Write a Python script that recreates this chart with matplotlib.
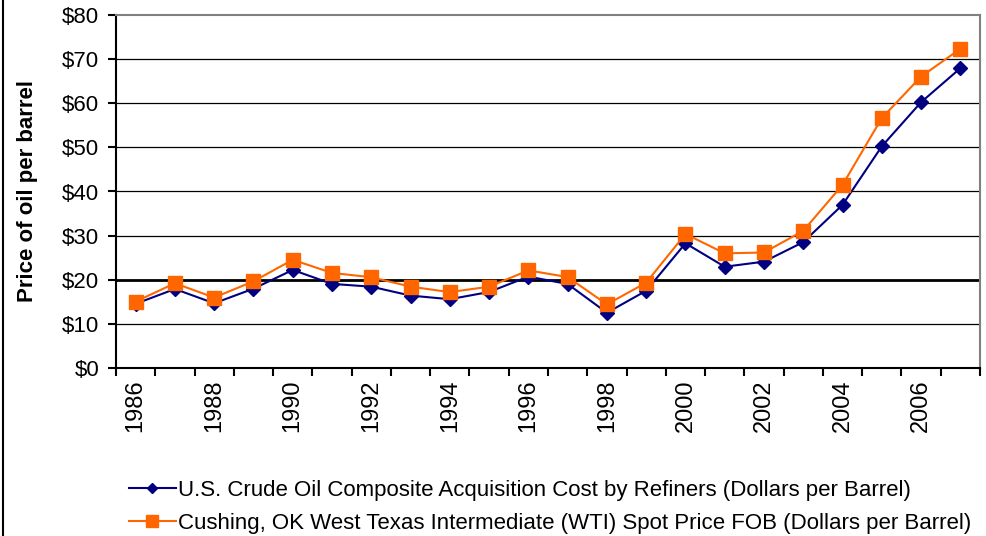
import numpy as np
import matplotlib.pyplot as plt
from matplotlib.lines import Line2D

plt.rcParams["font.family"] = ["Liberation Sans", "DejaVu Sans"]

years = list(range(1986, 2008))
refiner_cost = [14.55, 17.90, 14.67, 17.97, 22.22, 19.06, 18.43, 16.41, 15.59, 17.23, 20.71,
                19.04, 12.52, 17.51, 28.26, 22.95, 24.10, 28.53, 36.98, 50.24, 60.24, 67.94]
wti_price = [15.05, 19.20, 15.97, 19.64, 24.53, 21.54, 20.58, 18.43, 17.20, 18.43, 22.12,
             20.61, 14.42, 19.34, 30.38, 25.98, 26.18, 31.08, 41.51, 56.64, 66.05, 72.34]
yticks = [0, 10, 20, 30, 40, 50, 60, 70, 80]

label_blue = "U.S. Crude Oil Composite Acquisition Cost by Refiners (Dollars per Barrel)"
label_orange = "Cushing, OK West Texas Intermediate (WTI) Spot Price FOB (Dollars per Barrel)"

fs = 16
fig = plt.figure(figsize=(9.86, 5.36), dpi=100)
ax = fig.add_axes([116 / 986, 1 - 368 / 536, (980 - 116) / 986, (368 - 15) / 536])

x = np.arange(len(years))

# gridlines
for v in yticks[1:-1]:
    ax.axhline(v, color="black", lw=2.0 if v == 20 else 0.9, zorder=1)

ax.plot(x, refiner_cost, color="#000080", lw=1.5, marker="D", ms=7,
        label=label_blue, zorder=3)
ax.plot(x, wti_price, color="#FF6600", lw=1.5, marker="s", ms=10,
        label=label_orange, zorder=4)

ax.set_xlim(-0.5, len(years) - 0.5)
ax.set_ylim(0, 80)
ax.set_yticks(yticks)
ax.set_yticklabels(["$%d" % v for v in yticks], fontsize=fs)

ax.set_xticks(np.arange(-0.5, len(years), 1.0))
ax.set_xticklabels([])
ax.set_xticks(x[::2], minor=True)
ax.set_xticklabels([str(y) for y in years[::2]], minor=True, rotation=90, fontsize=fs + 1)
ax.tick_params(axis="x", which="major", length=6, width=1.5, direction="out")
ax.tick_params(axis="x", which="minor", length=0, pad=8)
ax.tick_params(axis="y", length=6, width=1.5, direction="out", pad=6)

ax.spines["left"].set_linewidth(1.5)
ax.spines["bottom"].set_linewidth(1.5)
ax.spines["top"].set_color("#808080")
ax.spines["right"].set_color("#808080")
ax.spines["top"].set_linewidth(1.5)
ax.spines["right"].set_linewidth(1.5)

ax.set_ylabel("Price of oil per barrel", fontsize=fs, fontweight="bold", labelpad=17)

fig.legend(loc="upper left", bbox_to_anchor=(129 / 986, 1 - 480 / 536), frameon=False,
           fontsize=fs, handlelength=2.1, handletextpad=0.1, labelspacing=0.55,
           borderpad=0, borderaxespad=0, markerscale=0.8)

# chart area border on the left
fig.add_artist(Line2D([3 / 986, 3 / 986], [0, 1], color="black", lw=1.5,
                      transform=fig.transFigure))

fig.savefig("out.png", dpi=100)
